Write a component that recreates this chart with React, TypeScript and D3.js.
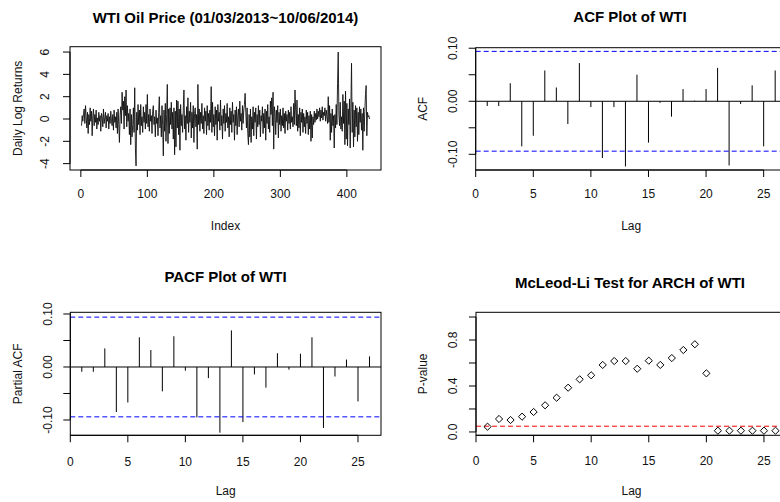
import React from "react";
import * as d3 from "d3";

// Daily log returns of WTI oil price
const returns: number[] = [
  -0.6, 0.3, -0.2, 0.5, 0.9, -0.4, 1.2, 0.2, -0.8, 0.6, -1.3, 0.4, -0.5, 1.0, -0.2, 0.7, -1.5, 0.3, 0.9, -0.6,
  0.4, -0.3, 0.8, -0.9, 0.1, -0.5, 0.6, -0.2, 0.3, -1.1, 0.5, 0.2, -0.7, 0.9, -0.4, 0.1, 0.6, -0.8, 0.3, -0.2,
  0.5, -0.9, 0.2, -0.4, 0.7, -0.1, -0.6, 0.4, -1.0, 0.8, -0.3, 0.2, -0.8, 0.6, -1.3, 0.9, -0.5, -2.1, 0.3, 1.1,
  -0.4, 2.4, 0.8, 1.6, -0.9, 2.0, 0.3, 2.6, -0.7, 1.2, -0.2, 0.5, -1.4, 0.9, -2.3, 0.4, -1.6, -0.5, 1.0, -1.2,
  2.8, -2.6, -4.2, 0.6, -1.0, 1.3, -0.5, 0.8, -1.4, 1.3, -0.6, 0.2, -1.2, 1.1, -0.3, 0.6, -0.9, 1.3, -0.4, 2.2,
  -0.7, 0.4, -1.1, 0.9, -0.2, 0.3, -1.3, 0.7, 1.2, -0.5, 0.2, -1.6, 0.8, -0.4, 0.1, -1.5, 0.6, 2.0, -0.8, 0.3,
  -1.6, 1.2, -0.6, -3.3, 0.8, -1.1, 1.4, -2.0, 0.4, 3.1, -2.2, 0.9, -1.3, 1.0, -0.5, 1.5, -0.9, 0.6, -1.8, 1.0,
  -3.2, 0.7, -2.5, 1.7, -0.8, 1.6, -1.4, 0.9, -2.8, 1.3, -0.6, 0.4, -1.2, 0.8, 2.6, -0.9, 0.3, -1.9, 1.1, -0.4,
  1.9, -1.2, 0.7, -0.3, 1.5, -1.7, 0.6, -0.8, 1.2, -2.1, 0.5, 1.0, -0.7, 0.4, -2.7, 3.1, -0.5, 0.9, -1.1, 0.6,
  -0.4, 1.4, -0.9, 0.3, -1.3, 1.0, -0.2, 0.7, -1.4, 1.2, -0.6, 0.5, -1.0, 0.8, -0.3, 2.9, -1.2, 1.5, -0.7, 0.4,
  -1.5, 1.1, -0.5, 0.8, -1.9, 1.3, -0.2, 0.6, -1.0, 1.7, -0.6, 0.3, -1.8, 0.9, -0.4, 1.2, -1.1, 0.5, -0.3, 1.4,
  -0.8, 0.2, -1.6, 1.0, -0.5, 0.7, -1.2, 1.5, -0.3, 0.4, -1.9, 0.8, -0.6, 1.1, -1.4, 0.3, 0.9, -0.7, 1.6, -0.2,
  0.5, -1.0, 1.2, -0.4, 0.8, 1.3, 2.3, 0.6, -0.8, 1.0, -1.3, -2.3, 0.4, -1.6, 0.9, -2.1, 0.2, -0.9, 1.1, -1.5,
  0.6, -0.3, 1.0, -1.8, 0.4, -0.7, 1.2, -0.5, 0.8, -1.6, 0.3, -0.2, 1.1, -1.3, 0.5, -0.8, 0.9, -1.9, 0.7, -0.4,
  1.3, -0.9, 0.2, -1.2, 1.6, 0.4, 1.9, -0.6, 2.4, -2.7, 1.1, 0.5, -1.4, 0.8, -0.3, 1.2, -1.7, 0.6, -0.5, 0.9,
  -1.1, 0.3, -0.6, 1.0, -0.8, 0.5, -1.3, 0.7, -0.2, 0.4, -1.0, 0.8, -0.4, 0.6, -0.9, 1.1, -0.3, 0.2, -0.7, 1.4,
  -0.5, 2.6, 0.8, -0.6, 1.7, -1.1, 0.4, -0.8, 1.0, -1.5, 0.6, -0.3, 0.9, -1.2, 0.5, -0.7, 0.2, -1.3, 0.8, -0.4,
  0.6, -1.4, 0.3, -0.9, 0.7, -2.0, 0.4, -1.7, 0.2, -0.5, 0.7, -0.3, 0.5, -0.1, 0.9, 0.0, 0.7, 0.2, 1.0, -0.2,
  0.8, 0.1, 1.1, -0.1, 0.6, 0.3, 1.0, -0.2, 0.8, 0.2, -0.4, 2.0, -0.3, 1.2, -1.9, 0.5, -1.2, 0.9, -0.6, 0.3,
  -2.6, 0.4, -0.8, 1.3, -0.5, 3.2, 6.0, 0.4, -0.6, 1.5, -0.9, 0.2, -1.1, 2.2, -0.4, 1.6, -2.3, 2.5, -1.8, 1.4,
  -2.4, 0.9, -0.5, 1.8, -2.6, 1.0, 5.0, -1.2, 1.5, -2.5, 0.8, -1.6, 1.2, -0.7, 1.0, -2.0, 0.6, -1.4, 1.1, -0.3,
  0.9, -1.0, 0.5, -2.8, 1.0, -1.1, 0.7, 2.2, 3.0, -1.5, 0.6, 0.2, 0.3, 0.0,
];

const lags: number[] = d3.range(1, 27);

const acfValues: number[] = [
  -0.009, -0.009, 0.034, -0.085, -0.065, 0.058, 0.026, -0.043, 0.072, -0.011,
  -0.107, -0.011, -0.123, 0.050, -0.078, -0.003, -0.029, 0.023, 0.001, 0.023,
  0.063, -0.121, -0.005, 0.030, -0.085, 0.058,
];

const pacfValues: number[] = [
  -0.009, -0.009, 0.035, -0.085, -0.067, 0.056, 0.032, -0.046, 0.058, -0.007,
  -0.095, -0.021, -0.124, 0.069, -0.104, -0.014, -0.039, 0.026, -0.005, 0.025,
  0.056, -0.115, -0.018, 0.014, -0.065, 0.020,
];

const mcleodPValues: number[] = [
  0.046, 0.113, 0.104, 0.133, 0.174, 0.232, 0.298, 0.385, 0.458, 0.493,
  0.583, 0.617, 0.617, 0.55, 0.62, 0.583, 0.643, 0.713, 0.763, 0.51,
  0.011, 0.011, 0.011, 0.011, 0.011, 0.011,
];

const indexTicks = [0, 100, 200, 300, 400];
const returnTicks = [-4, -2, 0, 2, 4, 6];
const lagTicks = [0, 5, 10, 15, 20, 25];
const acfTicks = [-0.1, -0.05, 0, 0.05, 0.1];
const acfTickLabels: Record<string, string> = { "-0.1": "-0.10", "0": "0.00", "0.1": "0.10" };
const pTicks = [0, 0.2, 0.4, 0.6, 0.8, 1.0];
const pTickLabels: Record<string, string> = { "0": "0.0", "0.4": "0.4", "0.8": "0.8" };

const FONT = "'Liberation Sans', Arial, Helvetica, sans-serif";
const TICK = 7;
const clim = 1.96 / Math.sqrt(returns.length);

type Box = { x0: number; x1: number; y0: number; y1: number };

function Axes({
  box, xs, ys, xTicks, yTicks, yLabelFmt, xLabelY, yLabelX, xTitle, yTitle, xTitleY, yTitleX,
  title, titleX, titleY,
}: {
  box: Box;
  xs: d3.ScaleLinear<number, number>;
  ys: d3.ScaleLinear<number, number>;
  xTicks: number[];
  yTicks: number[];
  yLabelFmt: (v: number) => string;
  xLabelY: number;
  yLabelX: number;
  xTitle: string;
  yTitle: string;
  xTitleY: number;
  yTitleX: number;
  title: string;
  titleX: number;
  titleY: number;
}) {
  const yMid = (box.y0 + box.y1) / 2;
  return (
    <g fontFamily={FONT} fill="#111">
      <rect x={box.x0} y={box.y0} width={box.x1 - box.x0} height={box.y1 - box.y0}
        fill="none" stroke="#000" strokeWidth={1} />
      <line x1={xs(xTicks[0])} x2={xs(xTicks[xTicks.length - 1])} y1={box.y1} y2={box.y1} stroke="#000" />
      {xTicks.map((t) => (
        <g key={"x" + t}>
          <line x1={xs(t)} x2={xs(t)} y1={box.y1} y2={box.y1 + TICK} stroke="#000" />
          <text x={xs(t)} y={xLabelY} textAnchor="middle" dominantBaseline="central" fontSize={12}>{t}</text>
        </g>
      ))}
      <line x1={box.x0} x2={box.x0} y1={ys(yTicks[0])} y2={ys(yTicks[yTicks.length - 1])} stroke="#000" />
      {yTicks.map((t) => (
        <g key={"y" + t}>
          <line x1={box.x0 - TICK} x2={box.x0} y1={ys(t)} y2={ys(t)} stroke="#000" />
          {yLabelFmt(t) !== "" && (
            <text transform={`translate(${yLabelX},${ys(t)}) rotate(-90)`} textAnchor="middle"
              dominantBaseline="central" fontSize={12}>{yLabelFmt(t)}</text>
          )}
        </g>
      ))}
      <text x={(box.x0 + box.x1) / 2} y={xTitleY} textAnchor="middle" dominantBaseline="central" fontSize={12}>{xTitle}</text>
      <text transform={`translate(${yTitleX},${yMid}) rotate(-90)`} textAnchor="middle"
        dominantBaseline="central" fontSize={12}>{yTitle}</text>
      <text x={titleX} y={titleY} textAnchor="middle" dominantBaseline="central" fontSize={15}
        fontWeight="bold" fill="#000">{title}</text>
    </g>
  );
}

export default function App() {
  const b1: Box = { x0: 70, x1: 381, y0: 46.7, y1: 170 };
  const n = returns.length;
  const pad = 0.04 * (n - 1);
  const x1s = d3.scaleLinear().domain([1 - pad, n + pad]).range([b1.x0, b1.x1]);
  const y1s = d3.scaleLinear().domain([-4.57, 6.48]).range([b1.y1, b1.y0]);
  const linePath = d3.line<number>().x((_, i) => x1s(i + 1)).y((d) => y1s(d))(returns) || "";

  const b2: Box = { x0: 475.7, x1: 786.7, y0: 47.7, y1: 170 };
  const x2s = d3.scaleLinear().domain([0, 27]).range([b2.x0, b2.x1]);
  const y2s = d3.scaleLinear().domain([-0.1296, 0.101]).range([b2.y1, b2.y0]);

  const b3: Box = { x0: 70.3, x1: 381, y0: 312.3, y1: 435.3 };
  const x3s = d3.scaleLinear().domain([0, 27]).range([b3.x0, b3.x1]);
  const y3s = d3.scaleLinear().domain([-0.1289, 0.1032]).range([b3.y1, b3.y0]);

  const b4: Box = { x0: 476, x1: 787, y0: 312.3, y1: 435.3 };
  const x4s = d3.scaleLinear().domain([0, 27]).range([b4.x0, b4.x1]);
  const y4s = d3.scaleLinear().domain([-0.029, 1.041]).range([b4.y1, b4.y0]);

  const acfFmt = (v: number) => acfTickLabels[String(+v.toFixed(2))] ?? "";
  const pFmt = (v: number) => pTickLabels[String(+v.toFixed(1))] ?? "";
  const D = 3.6;

  return (
    <svg width={780} height={502} style={{ position: "absolute", left: 0, top: 0, background: "#fff" }}>
      <rect x={0} y={0} width={780} height={502} fill="#fff" />

      <path d={linePath} fill="none" stroke="#111" strokeWidth={0.9} />
      <Axes box={b1} xs={x1s} ys={y1s} xTicks={indexTicks} yTicks={returnTicks}
        yLabelFmt={(v) => String(v)} xLabelY={194.3} yLabelX={45} xTitle="Index" yTitle="Daily Log Returns"
        xTitleY={225.7} yTitleX={18} title="WTI Oil Price (01/03/2013~10/06/2014)" titleX={225.5} titleY={17.7} />

      <line x1={b2.x0} x2={b2.x1} y1={y2s(0)} y2={y2s(0)} stroke="#000" />
      {lags.map((l, i) => (
        <line key={"acf" + l} x1={x2s(l)} x2={x2s(l)} y1={y2s(0)} y2={y2s(acfValues[i])} stroke="#000" />
      ))}
      {[clim, -clim].map((c) => (
        <line key={"c2" + c} x1={b2.x0} x2={b2.x1} y1={y2s(c)} y2={y2s(c)} stroke="#0000ff"
          strokeDasharray="5,3" />
      ))}
      <Axes box={b2} xs={x2s} ys={y2s} xTicks={lagTicks} yTicks={acfTicks}
        yLabelFmt={acfFmt} xLabelY={194.3} yLabelX={453.3} xTitle="Lag" yTitle="ACF"
        xTitleY={226} yTitleX={423.3} title="ACF Plot of WTI" titleX={630} titleY={16.7} />

      <line x1={b3.x0} x2={b3.x1} y1={y3s(0)} y2={y3s(0)} stroke="#000" />
      {lags.map((l, i) => (
        <line key={"pacf" + l} x1={x3s(l)} x2={x3s(l)} y1={y3s(0)} y2={y3s(pacfValues[i])} stroke="#000" />
      ))}
      {[clim, -clim].map((c) => (
        <line key={"c3" + c} x1={b3.x0} x2={b3.x1} y1={y3s(c)} y2={y3s(c)} stroke="#0000ff"
          strokeDasharray="5,3" />
      ))}
      <Axes box={b3} xs={x3s} ys={y3s} xTicks={lagTicks} yTicks={acfTicks}
        yLabelFmt={acfFmt} xLabelY={461.7} yLabelX={48.3} xTitle="Lag" yTitle="Partial ACF"
        xTitleY={490.7} yTitleX={18.3} title="PACF Plot of WTI" titleX={225.5} titleY={276.7} />

      <line x1={b4.x0} x2={b4.x1} y1={y4s(0.05)} y2={y4s(0.05)} stroke="#ff0000" strokeDasharray="5,3" />
      {lags.map((l, i) => {
        const cx = x4s(l);
        const cy = y4s(mcleodPValues[i]);
        return (
          <path key={"ml" + l} d={`M${cx},${cy - D}L${cx + D},${cy}L${cx},${cy + D}L${cx - D},${cy}Z`}
            fill="none" stroke="#000" strokeWidth={1} />
        );
      })}
      <Axes box={b4} xs={x4s} ys={y4s} xTicks={lagTicks} yTicks={pTicks}
        yLabelFmt={pFmt} xLabelY={460.7} yLabelX={453.3} xTitle="Lag" yTitle="P-value"
        xTitleY={490.7} yTitleX={423.3} title="McLeod-Li Test for ARCH of WTI" titleX={630} titleY={282.3} />
    </svg>
  );
}
